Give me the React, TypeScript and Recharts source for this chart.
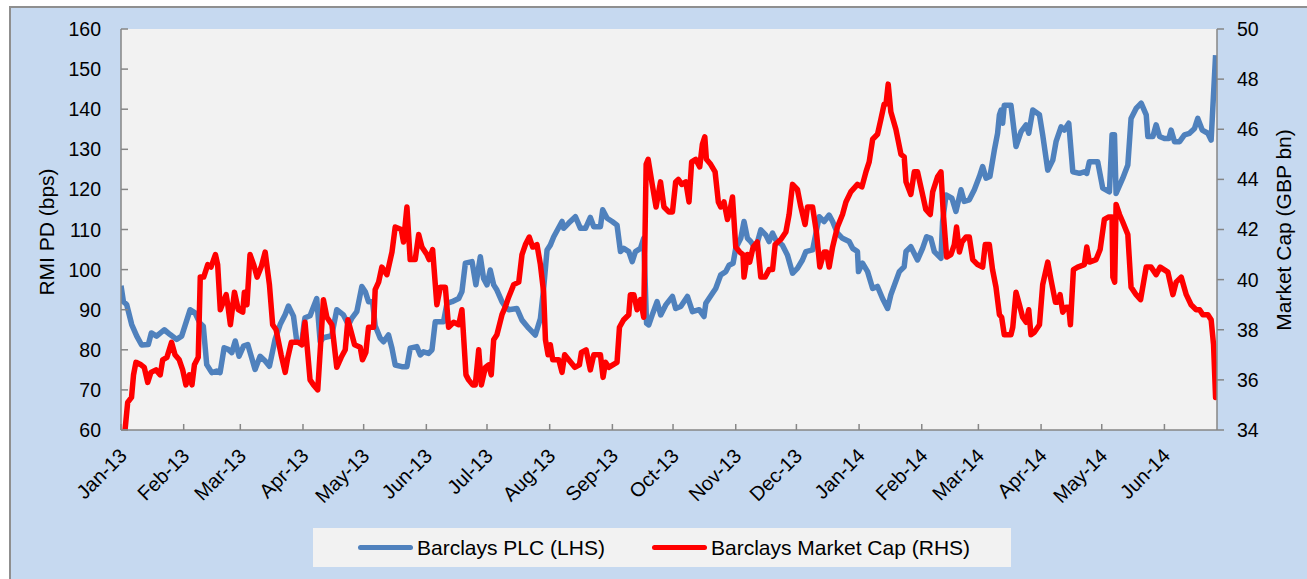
import { LineChart, Line, XAxis, YAxis, CartesianGrid, Legend } from "recharts";

// days counted from 1 Jan 2013
const monthTicks = [0, 31, 59, 90, 120, 151, 181, 212, 243, 273, 304, 334, 365, 396, 424, 455, 485, 516];
const monthLabels = [
  "Jan-13", "Feb-13", "Mar-13", "Apr-13", "May-13", "Jun-13", "Jul-13", "Aug-13", "Sep-13",
  "Oct-13", "Nov-13", "Dec-13", "Jan-14", "Feb-14", "Mar-14", "Apr-14", "May-14", "Jun-14",
];
const leftTicks = [60, 70, 80, 90, 100, 110, 120, 130, 140, 150, 160];
const rightTicks = [34, 36, 38, 40, 42, 44, 46, 48, 50];

// Barclays PLC RMI PD (bps)
const plcDays = [
  0, 1.2, 2.8, 5.3, 7.8, 10.2, 13.5, 15, 17.6, 21.4, 24.3, 27.5, 30, 34.2, 36.6, 39, 40.7, 42.4, 44.9, 47.3,
  49, 51, 53, 54.8, 56.5, 58.4, 60.6, 62.7, 64.4, 66.3, 68.8, 71.3, 73.4, 76.2, 78.7, 81.2, 82.8, 85.3, 86.9, 89.4,
  90.5, 91, 93.5, 96.8, 98.5, 100.1, 104.2, 106.7, 110, 112.5, 114.2, 116.6, 119.1, 120.8, 122.4, 124.4, 125.7, 128.2, 129.8, 132.3,
  134, 135.6, 138.9, 141.4, 143, 146.3, 148, 149.6, 152.1, 153.8, 155.4, 159.5, 161.2, 163.7, 167, 168.6, 170.3, 173.6, 175.5, 177.7,
  179.3, 181, 182.6, 184.3, 185.9, 188.4, 190, 191.7, 195.8, 198.3, 201.6, 204.9, 207.4, 209, 210.7, 212.3, 214, 218.1, 218.9, 221.4,
  224.7, 227.2, 229.7, 232.1, 233.8, 237.1, 238.2, 240.4, 242.9, 245.3, 247, 248.6, 251.1, 252.8, 254.4, 256.9, 258.5, 259.9, 261, 262.7,
  265.1, 266.9, 269.4, 272.7, 274.3, 276.8, 280.1, 282.6, 285.9, 288.3, 289.2, 292.5, 294.1, 296.6, 299.1, 300.7, 302.7, 304, 306.5, 308.1,
  309.8, 311.4, 313.9, 316.4, 318.9, 320.5, 322.2, 323.8, 327.1, 329.6, 332.1, 334.5, 337, 338.7, 342, 345.3, 347.7, 350.2, 351.9, 354.3,
  356.8, 360.1, 361.8, 364.2, 364.7, 366.7, 369.2, 371.7, 374.1, 376.6, 379.1, 380.7, 384.9, 387.3, 388.2, 390.6, 393.9, 396.4, 398.4, 400.5,
  402.2, 405.5, 406.3, 408, 410.9, 412.9, 415.4, 417, 419.5, 422, 424.5, 426.1, 427.8, 429.7, 431.9, 433.5, 434.4, 435.2, 436, 436.8,
  440.1, 442.6, 445.1, 447.6, 448.9, 450.9, 454.2, 455.8, 458.3, 460.8, 462.4, 464.9, 466.5, 468.7, 470.7, 474, 476.4, 477.6, 478.9, 483,
  485.5, 488.8, 490.1, 491.3, 492.1, 495.4, 497.9, 499.5, 502, 504.5, 507, 507.8, 510.3, 511.9, 513.6, 516, 518.2, 519.3, 521, 523.5,
  525.9, 528.4, 530.9, 532.5, 534.7, 537.5, 539.1, 541.3,
];
const plcValues = [
  96, 92, 91.3, 86.3, 83.4, 81.2, 81.3, 84.2, 83.4, 85, 83.8, 82.6, 83.4, 90, 89.2, 86.7, 85.9, 76.3, 74.3, 74.7,
  74.3, 80.5, 80.1, 79.3, 82.2, 78.4, 80.9, 81.3, 78.4, 75.1, 78.4, 77.2, 75.9, 82.6, 86.3, 88.8, 90.9, 88.4, 82.2, 81.7,
  86.5, 88, 88.5, 92.8, 82, 83, 83.5, 90, 88.7, 86.2, 87.9, 89.5, 95.8, 94.5, 92, 92, 86, 82.9, 82, 83.7,
  80.4, 76.2, 75.8, 75.8, 80.4, 80.8, 78.7, 79.5, 79.1, 80, 87, 87, 91.6, 92, 92.8, 94.5, 101.6, 102, 96.2, 103.2,
  97.8, 96.2, 99.9, 96.2, 94.9, 92, 90.8, 90, 90.3, 87.4, 85.4, 83.7, 87.8, 95.3, 104.9, 106.1, 108.2, 112, 110.3, 111.6,
  113.2, 110.3, 110.3, 113, 110.7, 110.7, 114.9, 112.8, 112, 111.1, 104.5, 105.3, 104.5, 102, 104.5, 105.3, 107.8, 86.6, 86.2, 88.7,
  92, 88.7, 91.2, 93.3, 90.3, 90.8, 93.3, 89.5, 90, 88.3, 91.6, 94.1, 95.3, 98.7, 99.5, 101.1, 101.6, 105.3, 107.8, 112,
  107.8, 107, 105.3, 109.9, 108.6, 107, 109.1, 107.4, 106.1, 103.6, 99.1, 100.3, 102.4, 104.5, 104.9, 113.2, 112, 113.6, 112, 109.1,
  107.8, 107, 105.3, 104.5, 99.5, 101.6, 99.5, 95.3, 95.8, 92.8, 90.3, 93.7, 99.5, 100.7, 104.5, 105.7, 102.4, 105.3, 108.2, 107.8,
  104.5, 102.8, 112, 118.6, 117.8, 114.5, 119.9, 117, 117.4, 119.9, 123.2, 125.7, 122.8, 123.2, 129.8, 134, 138.6, 139.8, 136.5, 141,
  141, 130.7, 134.4, 136.1, 134, 139.8, 138.6, 133.6, 124.8, 127.3, 131.9, 135.6, 134.8, 136.5, 124.4, 124, 124.4, 124, 126.9, 126.9,
  120.3, 119.4, 133.6, 133.6, 119, 122.8, 126.1, 137.7, 140.2, 141.5, 138.6, 133.2, 133.2, 136.1, 133.2, 132.7, 132.7, 134.8, 131.9, 131.9,
  133.6, 134, 135.2, 137.7, 134.8, 134, 132.3, 153.5,
];

// Barclays market cap (GBP bn)
const capDays = [
  2, 3.3, 5.2, 6.2, 7.4, 9.9, 11.5, 13.2, 14.8, 17.3, 19.4, 20.6, 22.7, 25, 26.7, 28.8, 30.5, 32.1, 33.8, 35.1,
  36.3, 38.2, 39.2, 40.9, 42.9, 44.5, 46.7, 47.8, 49.1, 52, 52.8, 54.1, 56.1, 58, 60.2, 61, 62.3, 63.8, 65.6, 67.3,
  69.3, 71.3, 73.4, 75, 76.7, 79.2, 81.2, 82.5, 84.2, 87.5, 89.5, 91, 93.5, 95.2, 97.3, 100.1, 101.8, 104.3, 106.7, 108.9,
  110.9, 112.2, 114.2, 115.5, 118.3, 119.4, 121.1, 122.4, 124.9, 125.7, 127.4, 129, 131.5, 134, 135.6, 138.6, 139.7, 141.4, 143, 145.5,
  147.2, 148.8, 151.3, 152.4, 154.1, 156.2, 157.9, 160.4, 162, 164.5, 167, 168.6, 170.6, 171.9, 173.9, 175.2, 176.9, 178.2, 180.2, 181.8,
  183.1, 184.3, 185.9, 188.4, 190, 191.7, 194.2, 196.7, 198.3, 200, 201.9, 203.6, 205.7, 207.4, 209, 209.9, 211.2, 212.3, 213.5, 216.5,
  218.1, 219.4, 221.4, 224.4, 226.7, 227.7, 230, 232.1, 233.8, 237.1, 238.4, 239.6, 241.2, 243.2, 245.3, 246.5, 248.6, 251.1, 251.9, 253.6,
  255.2, 256.9, 258.5, 259.7, 260.7, 262.7, 264.6, 266.8, 268.5, 271, 272.7, 274.3, 275.6, 277.3, 279.3, 280.9, 282.2, 284.2, 286.2, 287.5,
  288.7, 289.5, 291.6, 293.8, 295.4, 296.6, 298.2, 299.9, 301, 302.4, 304, 306, 307.6, 308.1, 309.8, 310.9, 312.6, 314.7, 316.4, 318.5,
  320.5, 322.2, 323.5, 326.3, 328.8, 330.4, 332.1, 334.5, 336.2, 338.3, 339.5, 342, 343.9, 345.6, 347.7, 348.9, 350.2, 351.9, 354.3, 356.8,
  358.5, 360.9, 364.2, 366.4, 368.4, 370, 371.7, 374.1, 375.8, 377.4, 378.3, 379.4, 380.7, 383.2, 385.7, 387.3, 388.2, 390.6, 392.3, 393.9,
  396.1, 398, 400.2, 401.4, 403.8, 405.5, 406.6, 408.3, 410.4, 412.1, 413.2, 414.6, 415.9, 417.9, 419.5, 421.2, 423.6, 426.1, 427.4, 429.4,
  431, 432.7, 434.4, 435.5, 436.8, 440.1, 441, 442.6, 444.3, 445.9, 447.6, 448.9, 450, 451.7, 454.2, 455.8, 458.3, 459.9, 462.1, 463.2,
  464.4, 465.7, 467.4, 468.7, 469.5, 471, 473.1, 476.4, 477.6, 478.9, 482.2, 484.2, 486.3, 488.5, 490.1, 490.5, 491.4, 492.1, 493.8, 495.4,
  497.9, 499.5, 502, 504.2, 507, 509.4, 511.9, 513.9, 517.7, 520.2, 521.8, 524.3, 526.8, 529.2, 531.7, 533.4, 535, 537.5, 539.1, 540.3,
  541.3, 542,
];
const capValues = [
  34.0, 35.1, 35.3, 36.2, 36.7, 36.6, 36.5, 35.9, 36.3, 36.4, 36.2, 36.8, 36.9, 37.5, 37.0, 36.8, 36.4, 35.8, 36.2, 35.8,
  36.6, 36.9, 40.1, 40.1, 40.6, 40.5, 41.0, 40.6, 38.8, 39.4, 39.0, 38.2, 39.5, 38.8, 38.7, 39.5, 39.0, 41.0, 40.6, 40.1,
  40.5, 41.1, 39.8, 38.2, 38.0, 37.0, 36.3, 36.9, 37.5, 37.5, 37.4, 38.3, 36.0, 35.8, 35.6, 39.2, 38.5, 38.2, 36.5, 36.9,
  37.2, 38.4, 37.8, 37.4, 37.3, 36.8, 37.1, 38.1, 38.1, 39.6, 39.9, 40.5, 40.2, 41.1, 42.1, 42.0, 41.5, 42.9, 40.8, 40.8,
  41.8, 41.3, 41.0, 40.8, 41.2, 39.0, 39.7, 39.7, 38.1, 38.3, 38.2, 38.8, 36.2, 36.0, 35.8, 35.8, 37.2, 35.8, 36.5, 36.6,
  36.2, 37.6, 37.8, 38.6, 38.9, 39.3, 39.8, 39.9, 41.0, 41.4, 41.7, 41.3, 41.4, 40.6, 39.5, 37.6, 37.0, 37.4, 36.8, 36.8,
  36.3, 37.0, 36.8, 36.5, 36.6, 37.1, 37.2, 36.4, 37.0, 37.0, 36.1, 36.7, 36.5, 36.6, 36.7, 38.1, 38.4, 38.6, 39.4, 39.4,
  38.8, 39.2, 38.5, 44.6, 44.8, 43.8, 42.9, 43.9, 42.9, 42.7, 42.7, 43.9, 44.0, 43.8, 43.9, 43.1, 44.7, 44.8, 44.5, 45.4,
  45.7, 44.8, 44.6, 44.3, 43.1, 42.9, 43.1, 42.4, 42.7, 43.3, 41.3, 41.1, 41.0, 40.1, 41.0, 40.7, 41.3, 41.5, 40.1, 40.1,
  40.4, 40.4, 41.4, 41.6, 41.9, 42.6, 43.8, 43.6, 42.9, 42.2, 42.9, 42.9, 41.9, 40.5, 41.1, 41.1, 40.5, 41.3, 42.1, 42.6,
  43.1, 43.5, 43.8, 43.7, 44.3, 44.7, 45.6, 45.8, 46.4, 47.0, 47.0, 47.8, 46.7, 46.0, 45.0, 44.9, 43.9, 43.4, 44.3, 44.3,
  43.5, 42.8, 42.6, 43.5, 44.1, 44.3, 42.7, 40.9, 41.0, 41.4, 42.1, 41.1, 41.5, 41.7, 41.7, 40.8, 40.6, 40.5, 41.4, 41.4,
  40.4, 39.7, 38.6, 38.5, 37.8, 37.8, 38.1, 39.5, 39.0, 38.5, 38.3, 38.8, 37.8, 37.9, 38.2, 39.8, 40.7, 40.0, 39.1, 39.1,
  39.4, 38.7, 38.9, 38.9, 38.2, 40.4, 40.5, 40.6, 41.3, 40.7, 40.8, 41.2, 42.4, 42.5, 42.5, 40.1, 39.9, 43.0, 42.6, 42.3,
  41.8, 39.7, 39.4, 39.2, 40.5, 40.5, 40.2, 40.5, 40.3, 39.4, 39.9, 40.1, 39.4, 39.0, 38.8, 38.8, 38.6, 38.6, 38.4, 37.4,
  35.3, 35.5,
];

const rows = [
  ...plcDays.map((day, i) => ({ day, plc: plcValues[i] })),
  ...capDays.map((day, i) => ({ day, cap: capValues[i] })),
].sort((a, b) => a.day - b.day);

const FONT = '"Liberation Sans", Arial, sans-serif';
const AXIS = "#868686";
const BLUE = "#4f81bd";
const RED = "#ff0000";

function MonthTick({ x, y, payload }: any) {
  const label = monthLabels[monthTicks.indexOf(payload.value)];
  const tx = x + 7;
  const ty = y + 27;
  return (
    <g>
      <line x1={x} x2={x} y1={y} y2={y - 6} stroke={AXIS} strokeWidth={1.5} />
      <text
        x={tx}
        y={ty}
        transform={`rotate(-45 ${tx} ${ty})`}
        textAnchor="end"
        fontSize={20}
        fontFamily={FONT}
        fill="#000"
      >
        {label}
      </text>
    </g>
  );
}

function LeftTick({ x, y, payload }: any) {
  return (
    <g>
      <line x1={x + 20} x2={x + 27} y1={y} y2={y} stroke={AXIS} strokeWidth={1.5} />
      <text x={x} y={y} dy="0.36em" textAnchor="end" fontSize={19.5} fontFamily={FONT} fill="#000">
        {payload.value}
      </text>
    </g>
  );
}

function LegendBox() {
  const line = (color: string, left: number) => (
    <span
      style={{
        position: "absolute",
        left,
        top: 17,
        width: 55,
        height: 5,
        borderRadius: 2.5,
        background: color,
      }}
    />
  );
  const text = (value: string, left: number) => (
    <span style={{ position: "absolute", left, top: 0, lineHeight: "39px", whiteSpace: "nowrap" }}>{value}</span>
  );
  return (
    <div
      style={{
        position: "relative",
        width: 698,
        height: 39,
        background: "#f2f2f2",
        fontFamily: FONT,
        fontSize: 21,
        color: "#000",
      }}
    >
      {line(BLUE, 45)}
      {text("Barclays PLC (LHS)", 104)}
      {line(RED, 339)}
      {text("Barclays Market Cap (RHS)", 398)}
    </div>
  );
}

export default function App() {
  return (
    <div style={{ position: "fixed", left: 0, top: 0, width: 1307, height: 579, background: "#fff", overflow: "hidden" }}>
      <div
        style={{
          position: "absolute",
          left: 9,
          top: 6,
          width: 1310,
          height: 590,
          background: "#c6d9f0",
          borderTop: "2px solid #8f8f8f",
          borderLeft: "2px solid #8f8f8f",
        }}
      />
      <div style={{ position: "absolute", left: 0, top: 0 }}>
        <LineChart width={1307} height={579} data={rows} margin={{ top: 29, right: 0, bottom: 0, left: 0 }}>
          <CartesianGrid fill="#f2f2f2" stroke="none" horizontal={false} vertical={false} yAxisId="left" />
          <XAxis
            dataKey="day"
            type="number"
            domain={[0, 542]}
            ticks={monthTicks}
            interval={0}
            height={149}
            tickSize={0}
            tickMargin={0}
            tickLine={false}
            tick={MonthTick}
            axisLine={{ stroke: AXIS, strokeWidth: 1.5 }}
            allowDataOverflow
          />
          <YAxis
            yAxisId="left"
            domain={[60, 160]}
            ticks={leftTicks}
            interval={0}
            width={121}
            tickSize={0}
            tickMargin={20}
            tickLine={false}
            tick={LeftTick}
            axisLine={{ stroke: AXIS, strokeWidth: 1.5 }}
            label={() => (
              <text
                x={46}
                y={232}
                transform="rotate(-90 46 232)"
                textAnchor="middle"
                dominantBaseline="central"
                fontSize={21}
                fontFamily={FONT}
                fill="#000"
              >
                RMI PD (bps)
              </text>
            )}
          />
          <YAxis
            yAxisId="right"
            orientation="right"
            domain={[34, 50]}
            ticks={rightTicks}
            interval={0}
            width={90}
            tickSize={7}
            tickMargin={13}
            tickLine={{ stroke: AXIS, strokeWidth: 1.5 }}
            tick={{ fontSize: 19.5, fontFamily: FONT, fill: "#000" }}
            axisLine={{ stroke: AXIS, strokeWidth: 1.5 }}
            label={() => (
              <text
                x={1283}
                y={230}
                transform="rotate(-90 1283 230)"
                textAnchor="middle"
                dominantBaseline="central"
                fontSize={21}
                fontFamily={FONT}
                fill="#000"
              >
                Market Cap (GBP bn)
              </text>
            )}
          />
          <Legend
            layout="vertical"
            verticalAlign="middle"
            align="center"
            wrapperStyle={{ left: 313, top: 528, width: 698, height: 39 }}
            content={LegendBox}
          />
          <Line
            yAxisId="left"
            dataKey="plc"
            name="Barclays PLC (LHS)"
            type="linear"
            stroke={BLUE}
            strokeWidth={5.5}
            strokeLinejoin="round"
            dot={false}
            connectNulls
            isAnimationActive={false}
          />
          <Line
            yAxisId="right"
            dataKey="cap"
            name="Barclays Market Cap (RHS)"
            type="linear"
            stroke={RED}
            strokeWidth={5.5}
            strokeLinejoin="round"
            dot={false}
            connectNulls
            isAnimationActive={false}
          />
        </LineChart>
      </div>
    </div>
  );
}
